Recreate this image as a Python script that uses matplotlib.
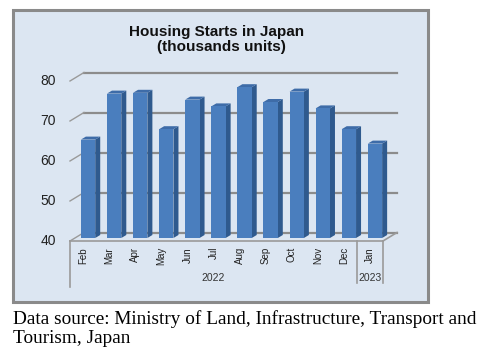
import matplotlib.pyplot as plt
from matplotlib.patches import Rectangle, Polygon

months = ['Feb', 'Mar', 'Apr', 'May', 'Jun', 'Jul', 'Aug', 'Sep', 'Oct', 'Nov', 'Dec', 'Jan']
starts = [64.6, 76.1, 76.3, 67.2, 74.6, 72.9, 77.7, 74.0, 76.6, 72.4, 67.2, 63.6]
years = ['2022', '2023']
year_spans = [(0, 10), (11, 11)]
y_ticks = [40, 50, 60, 70, 80]

W, H = 489, 358
fig = plt.figure(figsize=(W / 100, H / 100), dpi=100)
plt.rcParams['font.family'] = ['Liberation Sans', 'DejaVu Sans']


def fx(px):
    return px / W


def fy(py):
    return 1 - py / H


# chart box
fig.patches.append(Rectangle((fx(13), fy(302)), fx(428) - fx(13), fy(10) - fy(302),
                             transform=fig.transFigure, facecolor='#dce6f2',
                             edgecolor='#8a8a8a', linewidth=2.2, zorder=-5))

fig.text(fx(217), fy(32), 'Housing Starts in Japan', ha='center', va='center',
         fontsize=11, fontweight='bold', color='#111111')
fig.text(fx(221), fy(47), '(thousands units)', ha='center', va='center',
         fontsize=11, fontweight='bold', color='#111111')

# front plane of the axes
x0, x1, ytop, ybot = 70, 383, 81, 241
ax = fig.add_axes([fx(x0), fy(ybot), fx(x1) - fx(x0), fy(ytop) - fy(ybot)])
ax.set_xlim(-0.5, len(months) - 0.5)
ax.set_ylim(y_ticks[0], y_ticks[-1])
ax.axis('off')

sx = (x1 - x0) / (len(months))          # px per category
sy = (ybot - ytop) / (y_ticks[-1] - y_ticks[0])  # px per unit


def dx(px):
    return px / sx


def dy(px):
    return px / sy


xmin, xmax = -0.5, len(months) - 0.5
base = y_ticks[0]
grid_c = '#8c8c8c'
back_x, back_y = dx(14), dy(8.5)

# back wall gridlines and left wall ticks
for v in y_ticks:
    ax.plot([xmin + back_x, xmax + back_x], [v + back_y, v + back_y],
            color=grid_c, lw=1.6, clip_on=False, zorder=1)
    ax.plot([xmin, xmin + back_x], [v, v + back_y], color='#9a9a9a', lw=1.0,
            clip_on=False, zorder=1)
    ax.text(xmin - dx(22), v, str(v), ha='center', va='center', fontsize=10,
            color='#222222')

# floor edges
ax.plot([xmin, xmax], [base, base], color='#9a9a9a', lw=1.2, clip_on=False, zorder=2)
ax.plot([xmax, xmax + back_x], [base, base + back_y], color='#9a9a9a', lw=1.2,
        clip_on=False, zorder=2)

# category panel lines
ax.plot([xmin, xmin], [base, base - dy(46)], color='#9a9a9a', lw=1.2, clip_on=False)
for a, b in year_spans[1:]:
    ax.plot([a - 0.5, a - 0.5], [base, base - dy(42)], color='#9a9a9a', lw=1.2, clip_on=False)
ax.plot([xmax, xmax], [base, base - dy(42)], color='#9a9a9a', lw=1.2, clip_on=False)

# bars
w = 0.55
ox, oy = dx(5), dy(3)
sd_x, sd_y = dx(5), dy(3)
for i, v in enumerate(starts):
    left = i + ox - w / 2
    right = i + ox + w / 2
    b0 = base + oy
    t0 = v + oy
    ax.add_patch(Polygon([(right, b0), (right, t0), (right + sd_x, t0 + sd_y),
                          (right + sd_x, b0 + sd_y)], closed=True,
                         facecolor='#2f5a8e', edgecolor='none', clip_on=False, zorder=3))
    ax.add_patch(Polygon([(left, t0), (right, t0), (right + sd_x, t0 + sd_y),
                          (left + sd_x, t0 + sd_y)], closed=True,
                         facecolor='#3e6ca8', edgecolor='none', clip_on=False, zorder=3))
    ax.add_patch(Rectangle((left, b0), w, t0 - b0, facecolor='#4a7ebe',
                           edgecolor='none', clip_on=False, zorder=4))
    ax.text(i, base - dy(6), months[i], rotation=90, ha='center', va='top',
            fontsize=7, color='#222222')

for name, (a, b) in zip(years, year_spans):
    ax.text((a + b) / 2, base - dy(37), name, ha='center', va='center',
            fontsize=7.5, color='#333333')

fig.text(fx(13), fy(310), 'Data source: Ministry of Land, Infrastructure, Transport and\nTourism, Japan',
         ha='left', va='top', fontsize=13.9, family=['Liberation Serif'],
         color='black', linespacing=1.2)

fig.savefig('out.png', dpi=100)
